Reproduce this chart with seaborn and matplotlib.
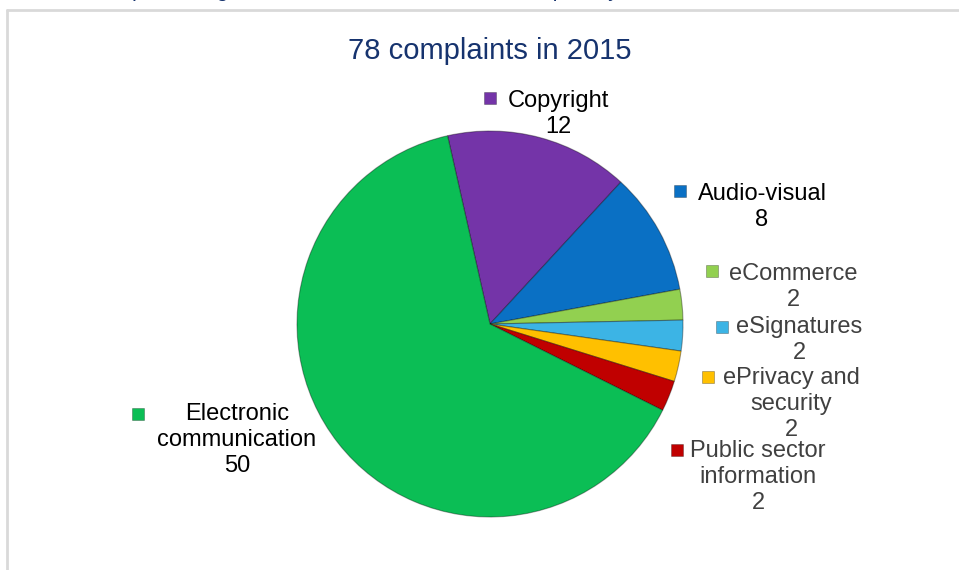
"""Pie chart of complaints by policy area, 2015."""

import textwrap

import matplotlib

matplotlib.use("Agg")
import matplotlib.pyplot as plt
import seaborn as sns

# data
categories = [
    "Copyright",
    "Audio-visual",
    "eCommerce",
    "eSignatures",
    "ePrivacy and security",
    "Public sector information",
    "Electronic communication",
]
counts = [12, 8, 2, 2, 2, 2, 50]
colors = ["#7434A8", "#0A70C4", "#92D050", "#3CB4E5", "#FFC000", "#C00000", "#0BBE55"]
label_colors = ["#000000", "#000000", "#404040", "#404040", "#404040", "#404040", "#000000"]
title = "78 complaints in 2015"

# layout in pixels (y measured from the top of the image)
W, H = 959, 570
center_px = (490, 324)
radius_px = 193
text_pos = [(558, 114), (762, 207), (793, 287), (799, 340), (791, 404), (758, 477), (237, 440)]
marker_pos = [(490, 98), (680, 191), (712, 271), (722, 327), (708, 377), (677, 450), (138, 414)]


def fy(y):
    return H - y


sns.set_theme(style="white")
plt.rcParams["font.family"] = ["Liberation Sans", "DejaVu Sans"]

fig = plt.figure(figsize=(W / 100, H / 100), dpi=100)
ax = fig.add_axes([0, 0, 1, 1])

start = 90 + 12.7
ax.pie(
    counts,
    colors=colors,
    startangle=start,
    counterclock=False,
    radius=radius_px,
    center=(center_px[0], fy(center_px[1])),
    wedgeprops=dict(edgecolor=(0, 0, 0, 0.35), linewidth=0.8),
)
ax.set_xlim(0, W)
ax.set_ylim(0, H)
ax.set_aspect("equal")
ax.axis("off")

# labels with little colour squares
for name, value, col, tcol, (tx, ty), (mx, my) in zip(
    categories, counts, colors, label_colors, text_pos, marker_pos
):
    wrapped = textwrap.fill(name, width=13, break_on_hyphens=False)
    ax.text(tx, fy(ty), f"{wrapped}\n{value}", ha="center", va="center",
            multialignment="center", fontsize=17, color=tcol, linespacing=1.26)
    ax.scatter([mx], [fy(my)], marker="s", s=80, color=col,
               edgecolor=(0, 0, 0, 0.3), linewidth=0.6, zorder=5)

ax.text(490, fy(51), title, ha="center", va="center", fontsize=21, color="#16336E")

# clipped heading from the page above
ax.text(88, fy(-3), "Complaints registered with the Commission in the privacy area",
        ha="left", va="baseline", fontsize=15, color="#16336E", clip_on=False)

# frame of the chart area
ax.plot([7, W + 5], [fy(10), fy(10)], color="#D9D9D9", lw=2, clip_on=False)
ax.plot([7, 7], [fy(10), -5], color="#D9D9D9", lw=2, clip_on=False)

fig.savefig("out.png", dpi=100, facecolor="white")
